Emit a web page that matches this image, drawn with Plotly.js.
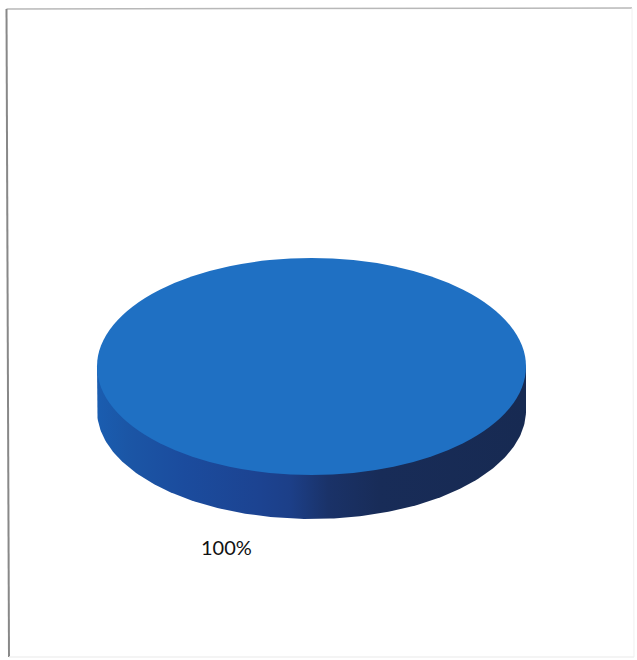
<!DOCTYPE html>
<html>
<head>
<meta charset="utf-8">
<script src="https://cdn.plot.ly/plotly-3.0.1.min.js"></script>
<style>html,body{margin:0;padding:0;background:#fff}#chart{width:637px;height:660px}</style>
</head>
<body>
<div id="chart"></div>
<script>
// Data
const categories = ["Category"];
const shares = [100];
const sliceColors = ["#1f70c3"];
const dataLabels = ["100%"];

// Layout geometry (page pixels)
const W = 637, H = 660;
const CX = 311.5, CY = 366.5, RX = 214.5, RY = 108.5, DEPTH = 44;
const toPaperX = p => p / W;
const toPaperY = p => 1 - p / H;

// Visible rim of the disc: front half of the ellipse, in radius units, from the pie's total
const total = shares.reduce((a, b) => a + b, 0);
const sweep = Math.PI * (shares[0] / total);
const rimX = [], rimY = [];
const d = DEPTH / RY;
rimX.push(-1); rimY.push(0);
for (let i = 0; i <= 180; i++) {
  const t = Math.PI + sweep * i / 180;
  rimX.push(Math.cos(t));
  rimY.push(Math.sin(t) - d);
}
rimX.push(1); rimY.push(0);
rimX.push(-1); rimY.push(0);

const rim = {
  type: "scatter", mode: "lines", x: rimX, y: rimY,
  line: {width: 0, color: "rgba(0,0,0,0)"},
  fill: "toself",
  fillgradient: {
    type: "horizontal",
    colorscale: [
      [0, "#1a5db0"], [0.07, "#1b56a6"], [0.2, "#1b4c9e"], [0.38, "#1c4391"],
      [0.45, "#1c3f88"], [0.54, "#1a3268"], [0.66, "#182c58"], [1, "#172a52"]
    ]
  },
  hoverinfo: "skip", showlegend: false
};

const top_ = {
  type: "pie", labels: categories, values: shares,
  marker: {colors: sliceColors, line: {width: 0}},
  textinfo: "none", textposition: "none", sort: false, showlegend: false,
  domain: {x: [toPaperX(CX - RX), toPaperX(CX + RX)], y: [toPaperY(CY + RX), toPaperY(CY - RX)]}
};

const edge = (x0, y0, x1, y1, color, width) => ({
  type: "line", xref: "paper", yref: "paper",
  x0: toPaperX(x0), y0: toPaperY(y0), x1: toPaperX(x1), y1: toPaperY(y1),
  line: {color: color, width: width}
});

const layout = {
  width: W, height: H,
  margin: {l: 0, r: 0, t: 0, b: 0},
  paper_bgcolor: "#ffffff", plot_bgcolor: "#ffffff",
  showlegend: false,
  xaxis: {visible: false, fixedrange: true, range: [-CX / RX, (W - CX) / RX]},
  yaxis: {visible: false, fixedrange: true, range: [(CY - H) / RY, CY / RY]},
  shapes: [
    edge(6.5, 9, 632, 8, "#b8b8b8", 1.5),
    edge(6.5, 9, 9, 657, "#888888", 2),
    edge(632, 8, 634, 657, "#f0f0f0", 1),
    edge(9, 657, 634, 657, "#f0f0f0", 1.5)
  ],
  annotations: [{
    xref: "paper", yref: "paper", x: toPaperX(226), y: toPaperY(547),
    xanchor: "center", yanchor: "middle", showarrow: false,
    text: dataLabels[0],
    font: {family: "Lato, 'Open Sans', sans-serif", size: 20, color: "#111111"}
  }]
};

Plotly.newPlot("chart", [rim, top_], layout, {displayModeBar: false, staticPlot: true}).then(gd => {
  // Tilt the pie into the same perspective as the rim
  const k = RY / RX;
  gd.querySelectorAll(".pielayer").forEach(g =>
    g.setAttribute("transform", `translate(0,${CY}) scale(1,${k}) translate(0,${-CY})`));
});
</script>
</body>
</html>
